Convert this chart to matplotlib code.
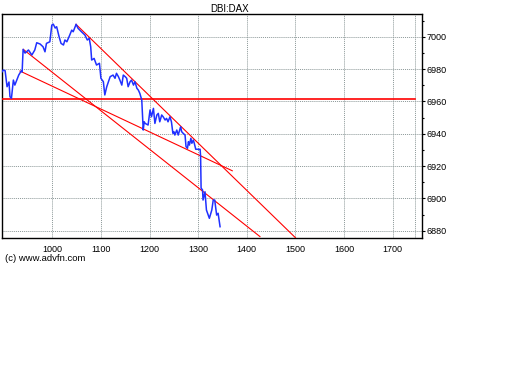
import numpy as np
import matplotlib
matplotlib.use('Agg')
import matplotlib.pyplot as plt
from matplotlib.ticker import MultipleLocator

plt.rcParams['font.family'] = ['Liberation Sans', 'DejaVu Sans']
plt.rcParams['font.size'] = 6.5

# price series (minute index, price)
t = [897, 899, 903, 907, 911, 913, 916, 920, 923, 927, 931, 936, 938, 940, 944,
     951, 958, 964, 968, 975, 981, 985, 988, 995, 999, 1002, 1006, 1009, 1014, 1018,
     1023, 1026, 1030, 1036, 1040, 1043, 1049, 1053, 1060, 1067, 1072, 1076, 1079, 1081,
     1086, 1091, 1097, 1100, 1105, 1108, 1112, 1119, 1125, 1129, 1132, 1136, 1139, 1143,
     1146, 1150, 1153, 1156, 1160, 1163, 1167, 1170, 1174, 1177, 1180, 1184, 1186, 1187,
     1189, 1191, 1197, 1201, 1204, 1208, 1211, 1215, 1218, 1221, 1225, 1228, 1232, 1235,
     1238, 1242, 1245, 1248, 1250, 1252, 1256, 1259, 1263, 1264, 1266, 1269, 1273, 1275,
     1278, 1280, 1282, 1285, 1287, 1290, 1292, 1295, 1304, 1305, 1306, 1309, 1310, 1314,
     1317, 1323, 1328, 1331, 1334, 1338, 1341, 1345]
price = [6978.4, 6979.4, 6979.0, 6969.1, 6972.0, 6962.9, 6961.9, 6973.2, 6970.1, 6973.2,
         6976.3, 6978.8, 6978.2, 6992.2, 6989.9, 6991.8, 6988.7, 6991.8, 6996.3, 6995.5,
         6993.8, 6990.7, 6995.9, 6996.9, 7007.2, 7007.8, 7005.4, 7006.2, 7000.0, 6995.9,
         6994.9, 6998.0, 6996.9, 7001.1, 7004.1, 7003.1, 7007.7, 7005.2, 7003.1, 7001.1,
         6998.0, 6999.0, 6993.8, 6985.6, 6986.6, 6982.5, 6983.6, 6974.3, 6972.2, 6964.0,
         6969.1, 6975.3, 6976.3, 6974.3, 6977.4, 6975.3, 6973.2, 6970.1, 6976.3, 6975.3,
         6974.3, 6969.1, 6972.2, 6973.2, 6970.1, 6972.2, 6968.1, 6967.0, 6965.0, 6960.9,
         6948.5, 6942.3, 6947.4, 6946.4, 6945.4, 6954.7, 6950.5, 6955.7, 6946.4, 6951.6,
         6952.6, 6947.4, 6951.6, 6950.5, 6948.5, 6949.5, 6947.4, 6950.5, 6947.4, 6940.3,
         6941.3, 6939.2, 6942.3, 6939.2, 6943.4, 6944.3, 6941.3, 6940.3, 6939.2, 6932.0,
         6931.0, 6935.1, 6933.0, 6937.2, 6934.1, 6936.1, 6934.1, 6930.4, 6930.4, 6925.8,
         6906.4, 6905.2, 6899.0, 6904.1, 6892.8, 6887.7, 6892.8, 6899.0, 6899.0, 6889.7,
         6890.8, 6882.5]

# trend lines: (x0, y0, x1, y1)
trend_lines = [
    (1048.7, 7007.7, 1500.0, 6875.7),
    (940.4, 6992.2, 1427.0, 6876.4),
    (933.6, 6978.8, 1370.1, 6917.1),
]
support_level = 6961.6
window_end = 1745

fig = plt.figure(figsize=(5.12, 3.84), dpi=100)
ax = fig.add_axes([0.0039, 0.381, 0.8197, 0.5818])

ax.set_xlim(896.6, 1759.6)
ax.set_ylim(6875.7, 7013.9)

grid_kw = dict(color='#8c9898', linestyle=(0, (1, 1)), linewidth=0.7)
ax.xaxis.set_major_locator(MultipleLocator(100))
ax.yaxis.set_major_locator(MultipleLocator(20))
ax.yaxis.set_minor_locator(MultipleLocator(10))
ax.grid(True, which='major', **grid_kw)
ax.axvline(window_end, zorder=1, **grid_kw)
ax.set_axisbelow(True)

ax.plot([ax.get_xlim()[0], window_end + 1], [support_level, support_level],
        color='red', linewidth=1.2, zorder=3)
for x0, y0, x1, y1 in trend_lines:
    ax.plot([x0, x1], [y0, y1], color='red', linewidth=0.8, zorder=3)

ax.plot(t, price, color='#2030ff', linewidth=1.1, zorder=4)

ax.yaxis.tick_right()
ax.tick_params(axis='y', which='major', length=2.5, width=0.8, pad=1, labelsize=6.5)
ax.tick_params(axis='y', which='minor', length=1.5, width=0.8)
ax.tick_params(axis='x', length=0, pad=5, labelsize=6.5)
ax.set_xticks([1000, 1100, 1200, 1300, 1400, 1500, 1600, 1700])

for s in ax.spines.values():
    s.set_linewidth(1.0)
    s.set_color('black')

fig.text(230 / 512, 1 - 8.5 / 384, 'DBI:DAX', ha='center', va='center', fontsize=7)
fig.text(5 / 512, 1 - 258.5 / 384, '(c) www.advfn.com', ha='left', va='center', fontsize=6.8)

plt.savefig('out.png', dpi=100)
